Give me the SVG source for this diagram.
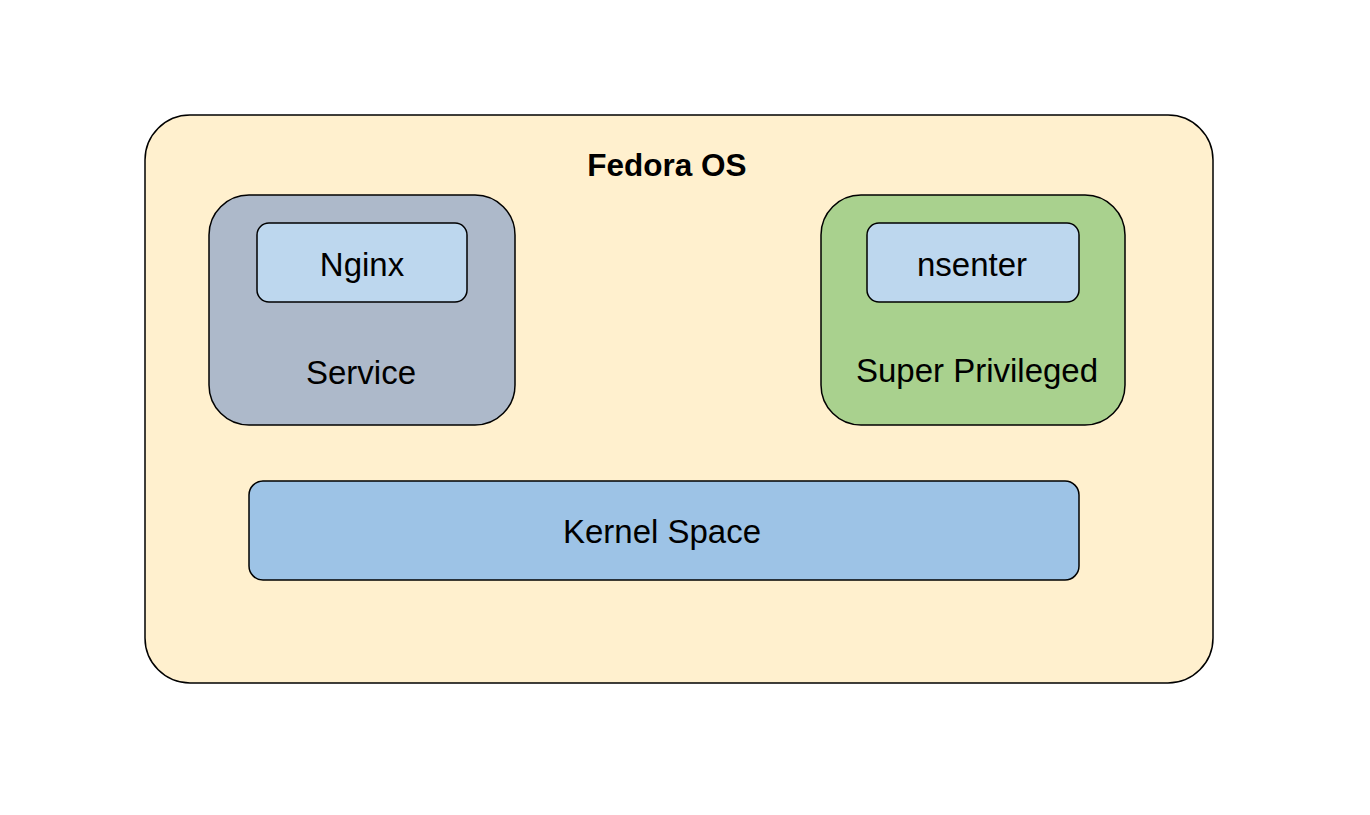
<svg xmlns="http://www.w3.org/2000/svg" width="1370" height="815" viewBox="0 0 1370 815">
<style>
.b{stroke:#000;stroke-width:1.5}
.t{font-family:"Liberation Sans",Arial,sans-serif;font-size:33px;fill:#000;text-anchor:middle}
</style>
<rect width="1370" height="815" fill="#fff"/>
<g id="fedora">
<rect class="b" x="145" y="115" width="1068" height="568" rx="45" fill="#FFF0CE"/>
<text class="t" x="667" y="176" font-weight="bold" style="font-size:31.5px">Fedora OS</text>
</g>
<g id="service">
<rect class="b" x="209" y="195" width="306" height="230" rx="40" fill="#ADB9CA"/>
<text class="t" x="361" y="384">Service</text>
</g>
<g id="nginx">
<rect class="b" x="257" y="223" width="210" height="79" rx="12" fill="#BDD7EE"/>
<text class="t" x="362" y="276">Nginx</text>
</g>
<g id="super">
<rect class="b" x="821" y="195" width="304" height="230" rx="40" fill="#A9D18E"/>
<text class="t" x="977" y="382">Super Privileged</text>
</g>
<g id="nsenter">
<rect class="b" x="867" y="223" width="212" height="79" rx="12" fill="#BDD7EE"/>
<text class="t" x="972" y="276">nsenter</text>
</g>
<g id="kernel">
<rect class="b" x="249" y="481" width="830" height="99" rx="14" fill="#9DC3E6"/>
<text class="t" x="662" y="543">Kernel Space</text>
</g>
<g id="connectors"/>
</svg>
